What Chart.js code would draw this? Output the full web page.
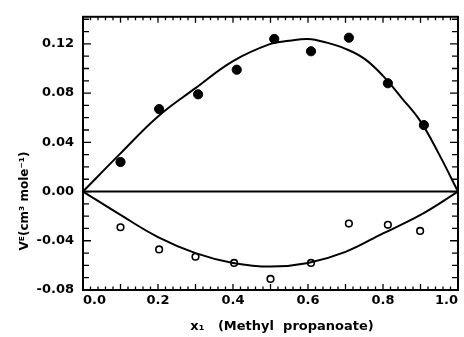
<!DOCTYPE html>
<html>
<head>
<meta charset="utf-8">
<script src="https://cdn.jsdelivr.net/npm/chart.js@4"></script>
<style>
  html, body { margin: 0; padding: 0; background: #fff; }
  #wrap { width: 464px; height: 337px; }
</style>
</head>
<body>
<div id="wrap"><canvas id="veChart"></canvas></div>
<script>
// --- datos ---
const filledX = [0.10, 0.203, 0.307, 0.41, 0.51, 0.608, 0.709, 0.813, 0.909];
const filledY = [0.024, 0.067, 0.079, 0.099, 0.124, 0.114, 0.125, 0.088, 0.054];

const openX = [0.10, 0.203, 0.30, 0.403, 0.50, 0.608, 0.709, 0.813, 0.899];
const openY = [-0.029, -0.047, -0.053, -0.058, -0.071, -0.058, -0.026, -0.027, -0.032];

const upperCurveX = [0.0, 0.1, 0.2, 0.3, 0.4, 0.5, 0.55, 0.6, 0.65, 0.7, 0.75, 0.8, 0.85, 0.9, 0.95, 1.0];
const upperCurveY = [0.0, 0.031, 0.061, 0.084, 0.106, 0.120, 0.1225, 0.124, 0.121, 0.116, 0.108, 0.094, 0.076, 0.057, 0.030, 0.0];

const lowerCurveX = [0.0, 0.1, 0.2, 0.3, 0.4, 0.5, 0.6, 0.7, 0.8, 0.9, 1.0];
const lowerCurveY = [0.0, -0.019, -0.037, -0.050, -0.058, -0.061, -0.058, -0.049, -0.034, -0.019, 0.0];

const zeroLineX = [0.0, 1.0];
const zeroLineY = [0.0, 0.0];

const xTickValues = [0.0, 0.2, 0.4, 0.6, 0.8, 1.0];
const yTickValues = [-0.08, -0.04, 0.0, 0.04, 0.08, 0.12];

const toPoints = (xs, ys) => xs.map((x, i) => ({ x: x, y: ys[i] }));

const FONT = "'DejaVu Sans', sans-serif";

// marco, marcas hacia dentro y títulos de los ejes
const framePlugin = {
    id: 'frame',
    afterDraw(chart) {
        const { ctx, chartArea: a, scales } = chart;
        const xs = scales.x, ys = scales.y;
        ctx.save();
        ctx.strokeStyle = '#000';
        ctx.lineWidth = 2;
        ctx.strokeRect(a.left, a.top, a.right - a.left, a.bottom - a.top);
        ctx.lineWidth = 1.3;
        ctx.beginPath();
        for (let i = 0; i <= 50; i++) {
            const px = xs.getPixelForValue(i * 0.02);
            const len = (i % 5 === 0) ? 6 : 3.5;
            ctx.moveTo(px, a.bottom); ctx.lineTo(px, a.bottom - len);
            ctx.moveTo(px, a.top); ctx.lineTo(px, a.top + len);
        }
        for (let i = -8; i <= 14; i++) {
            const py = ys.getPixelForValue(i * 0.01);
            if (py < a.top || py > a.bottom) continue;
            const len = (i % 4 === 0) ? 8 : 6;
            ctx.moveTo(a.left, py); ctx.lineTo(a.left + len, py);
            ctx.moveTo(a.right, py); ctx.lineTo(a.right - len, py);
        }
        ctx.stroke();

        ctx.fillStyle = '#000';
        ctx.font = "bold 13px " + FONT;
        ctx.textAlign = 'center';
        ctx.textBaseline = 'middle';
        ctx.fillText('x₁   (Methyl  propanoate)', 282, 327);

        ctx.translate(25, 201);
        ctx.rotate(-Math.PI / 2);
        ctx.font = "bold 12px " + FONT;
        ctx.fillText('Vᴱ(cm³ mole⁻¹)', 0, 0);
        ctx.restore();
    }
};

new Chart(document.getElementById('veChart'), {
    type: 'scatter',
    data: {
        datasets: [
            {
                label: 'curva superior',
                data: toPoints(upperCurveX, upperCurveY),
                showLine: true,
                borderColor: '#000',
                borderWidth: 2,
                pointRadius: 0,
                tension: 0.4
            },
            {
                label: 'curva inferior',
                data: toPoints(lowerCurveX, lowerCurveY),
                showLine: true,
                borderColor: '#000',
                borderWidth: 2,
                pointRadius: 0,
                tension: 0.4
            },
            {
                label: 'cero',
                data: toPoints(zeroLineX, zeroLineY),
                showLine: true,
                borderColor: '#000',
                borderWidth: 2,
                pointRadius: 0
            },
            {
                label: 'lleno',
                data: toPoints(filledX, filledY),
                pointRadius: 4.6,
                pointBackgroundColor: '#000',
                pointBorderColor: '#000',
                pointBorderWidth: 1
            },
            {
                label: 'abierto',
                data: toPoints(openX, openY),
                pointRadius: 3.3,
                pointBackgroundColor: '#fff',
                pointBorderColor: '#000',
                pointBorderWidth: 1.6
            }
        ]
    },
    options: {
        responsive: true,
        maintainAspectRatio: false,
        animation: false,
        layout: { padding: { top: 15, right: 6, left: 0, bottom: 0 } },
        plugins: {
            legend: { display: false },
            tooltip: { enabled: false }
        },
        scales: {
            x: {
                type: 'linear',
                min: 0,
                max: 1,
                afterBuildTicks: s => { s.ticks = xTickValues.map(v => ({ value: v })); },
                afterFit: s => { s.height = 47; },
                grid: { display: false, drawTicks: false },
                border: { display: false },
                ticks: {
                    color: '#000',
                    padding: 3,
                    align: 'inner',
                    maxRotation: 0,
                    font: { family: FONT, size: 13, weight: 'bold' },
                    callback: v => v.toFixed(1)
                }
            },
            y: {
                type: 'linear',
                min: -0.08,
                max: 0.142,
                afterBuildTicks: s => { s.ticks = yTickValues.map(v => ({ value: v })); },
                afterFit: s => { s.width = 83; },
                grid: { display: false, drawTicks: false },
                border: { display: false },
                ticks: {
                    color: '#000',
                    padding: 9,
                    font: { family: FONT, size: 13, weight: 'bold' },
                    callback: v => v.toFixed(2)
                }
            }
        }
    },
    plugins: [framePlugin]
});
</script>
</body>
</html>
